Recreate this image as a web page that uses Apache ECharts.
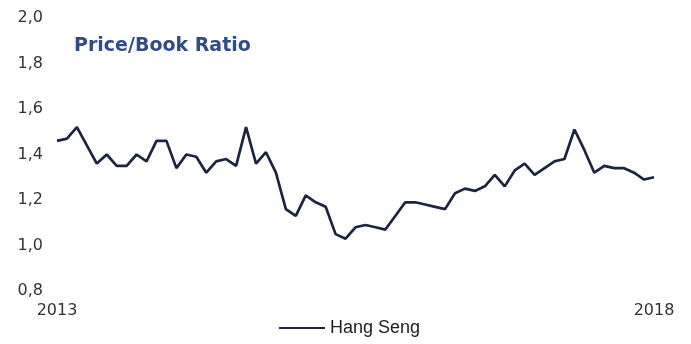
<!DOCTYPE html>
<html>
<head>
<meta charset="utf-8">
<script src="https://cdn.jsdelivr.net/npm/echarts@6/dist/echarts.min.js"></script>
<style>
  html, body { margin: 0; padding: 0; background: #ffffff; }
  #chart { width: 691px; height: 344px; }
</style>
</head>
<body>
<div id="chart"></div>
<script>
// Monthly Hang Seng price/book ratio, Jan 2013 – Jan 2018
const months = [];
for (let y = 2013; y <= 2018; y++) {
  for (let m = 1; m <= 12; m++) {
    if (y === 2018 && m > 1) break;
    months.push(y + '-' + String(m).padStart(2, '0'));
  }
}

const hangSeng = [
  1.46, 1.47, 1.52, 1.44, 1.36, 1.40, 1.35, 1.35, 1.40, 1.37,
  1.46, 1.46, 1.34, 1.40, 1.39, 1.32, 1.37, 1.38, 1.35, 1.52,
  1.36, 1.41, 1.32, 1.16, 1.13, 1.22, 1.19, 1.17, 1.05, 1.03,
  1.08, 1.09, 1.08, 1.07, 1.13, 1.19, 1.19, 1.18, 1.17, 1.16,
  1.23, 1.25, 1.24, 1.26, 1.31, 1.26, 1.33, 1.36, 1.31, 1.34,
  1.37, 1.38, 1.51, 1.42, 1.32, 1.35, 1.34, 1.34, 1.32, 1.29,
  1.30
];

const yTicks = { min: 0.8, max: 2.0, step: 0.2 };
const seriesName = 'Hang Seng';
const titleText = 'Price/Book Ratio';

const chart = echarts.init(document.getElementById('chart'), null, { renderer: 'canvas' });

chart.setOption({
  animation: false,
  backgroundColor: '#ffffff',
  title: {
    text: titleText,
    left: 69,
    top: 32,
    textStyle: {
      fontFamily: 'DejaVu Sans',
      fontWeight: 'bold',
      fontSize: 19,
      color: '#2f4c86'
    }
  },
  grid: { left: 57, right: 37, top: 18, bottom: 53 },
  legend: {
    data: [seriesName],
    bottom: 2,
    left: 274,
    icon: 'rect',
    itemWidth: 46,
    itemHeight: 2,
    itemGap: 4,
    textStyle: {
      fontFamily: 'Liberation Sans',
      fontSize: 18,
      color: '#222222'
    }
  },
  xAxis: {
    type: 'category',
    data: months,
    boundaryGap: false,
    axisLine: { show: false },
    axisTick: { show: false },
    splitLine: { show: false },
    axisLabel: {
      interval: (i) => i === 0 || i === months.length - 1,
      formatter: (v) => v.slice(0, 4),
      margin: 12,
      fontFamily: 'DejaVu Sans',
      fontSize: 16,
      color: '#333333'
    }
  },
  yAxis: {
    type: 'value',
    min: yTicks.min,
    max: yTicks.max,
    interval: yTicks.step,
    axisLine: { show: false },
    axisTick: { show: false },
    splitLine: { show: false },
    axisLabel: {
      margin: 14,
      fontFamily: 'DejaVu Sans',
      fontSize: 16,
      color: '#333333',
      formatter: (v) => v.toFixed(1).replace('.', ',')
    }
  },
  series: [{
    name: seriesName,
    type: 'line',
    data: hangSeng,
    symbol: 'none',
    lineStyle: { color: '#1b2440', width: 2.7 },
    itemStyle: { color: '#1b2440' }
  }]
});
</script>
</body>
</html>
